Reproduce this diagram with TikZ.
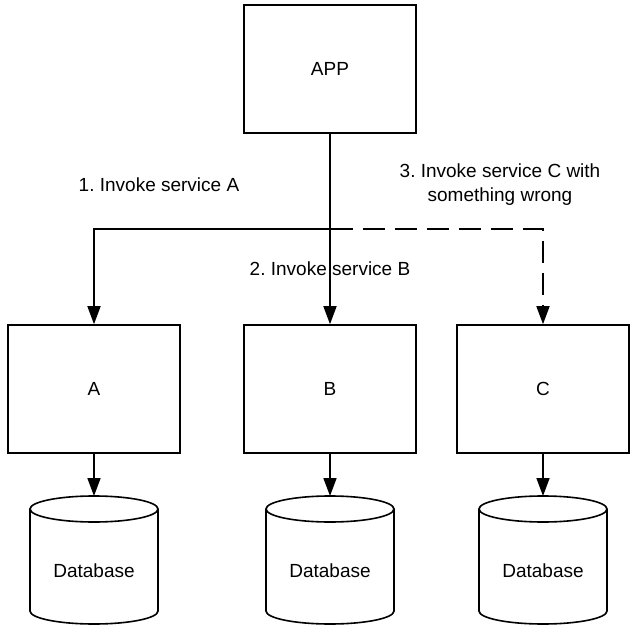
\documentclass[tikz,border=0pt]{standalone}
\usepackage{fontspec}
\setmainfont{Liberation Sans}
\usetikzlibrary{arrows.meta}
\frenchspacing
\tikzset{
   svcbox/.style={rectangle,draw,line width=1.6pt,minimum width=172pt,minimum height=128pt,inner sep=0pt},
   dbline/.style={line width=1.6pt},
   call/.style={line width=1.6pt,-{Triangle[length=18pt,width=13pt]}},
   badcall/.style={call,dash pattern=on 22pt off 10pt},
   note/.style={align=center,inner sep=0pt}
}
\begin{document}
\begin{tikzpicture}[x=1pt,y=-1pt,font=\fontsize{19}{24}\selectfont]
\useasboundingbox (0,0) rectangle (640,631);
% services
\node[svcbox] (APP) at (330,69) {APP};
\node[svcbox] (A) at (94,389) {A};
\node[svcbox] (B) at (330,389) {B};
\node[svcbox] (C) at (543,389) {C};
% databases
\foreach \S/\X in {A/94,B/330,C/543}{
	\draw[dbline] (\X-64,509) -- (\X-64,611) arc[start angle=180,end angle=360,x radius=64pt,y radius=13pt] -- (\X+64,509);
	\draw[dbline] (\X,509) ellipse[x radius=64pt,y radius=13pt];
	\coordinate (db\S) at (\X,496);
	\node (dbtxt\S) at (\X,571) {Database};
	\draw[call] (\S) -- (db\S);
}
% calls
\coordinate (fork) at (330,229);
\draw[call] (APP.south) -- (fork) -| (A.north);
\draw[call] (APP) -- (B);
\draw[badcall] (APP.south) -- (fork) -| (C.north);
\node[note] (lblA) at (159,185) {1. Invoke service A};
\node[note] (lblB) at (330,269) {2. Invoke service B};
\node[note] (lblC) at (500,185) {3. Invoke service C with\\something wrong};
\end{tikzpicture}
\end{document}
